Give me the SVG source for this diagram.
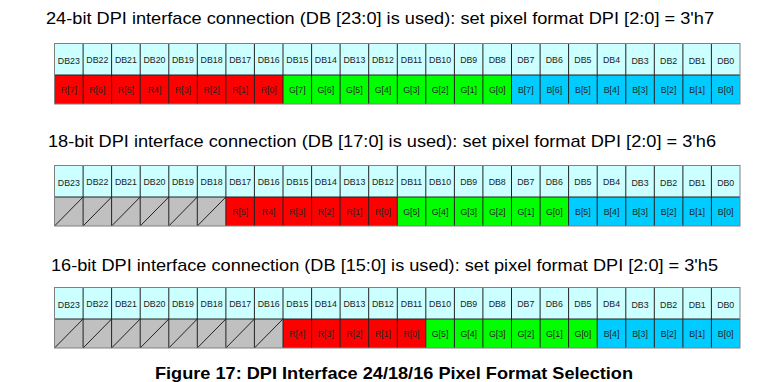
<svg xmlns="http://www.w3.org/2000/svg" xmlns:xlink="http://www.w3.org/1999/xlink" width="772" height="382" viewBox="0 0 772 382">
<style>
.title{font-family:"Liberation Sans",Arial,sans-serif;font-size:17px;fill:#000}
.cap{font-family:"Liberation Sans",Arial,sans-serif;font-size:16.5px;font-weight:bold;fill:#000}
.c{font-family:"Liberation Sans",Arial,sans-serif;font-size:8.8px;fill:#222;text-anchor:middle}
.hdr{fill:#ccffff}
.r{fill:#ff0000}
.g{fill:#00ff00}
.b{fill:#00ccff}
.gy{fill:#c0c0c0}
.grid{fill:none;stroke:#222;stroke-width:1}
.outer{fill:none;stroke:#808080;stroke-width:1}
.diag{fill:none;stroke:#222;stroke-width:1}
</style>
<defs>
<path id="gridlines" class="grid" d="M83.1 0V60.5M111.6 0V60.5M140.2 0V60.5M168.8 0V60.5M197.3 0V60.5M225.9 0V60.5M254.4 0V60.5M283 0V60.5M311.6 0V60.5M340.1 0V60.5M368.7 0V60.5M397.3 0V60.5M425.8 0V60.5M454.4 0V60.5M482.9 0V60.5M511.5 0V60.5M540.1 0V60.5M568.6 0V60.5M597.2 0V60.5M625.8 0V60.5M654.3 0V60.5M682.9 0V60.5M711.4 0V60.5M54.5 31.5H740"/>
<g id="hdrtext">
<text class="c" x="68.8" y="20.5">DB23</text>
<text class="c" x="97.3" y="19">DB22</text>
<text class="c" x="125.9" y="19">DB21</text>
<text class="c" x="154.5" y="19">DB20</text>
<text class="c" x="183" y="19">DB19</text>
<text class="c" x="211.6" y="19">DB18</text>
<text class="c" x="240.2" y="19">DB17</text>
<text class="c" x="268.7" y="19">DB16</text>
<text class="c" x="297.3" y="19">DB15</text>
<text class="c" x="325.8" y="19">DB14</text>
<text class="c" x="354.4" y="19">DB13</text>
<text class="c" x="383" y="19">DB12</text>
<text class="c" x="411.5" y="19">DB11</text>
<text class="c" x="440.1" y="19">DB10</text>
<text class="c" x="468.7" y="19">DB9</text>
<text class="c" x="497.2" y="19">DB8</text>
<text class="c" x="525.8" y="19">DB7</text>
<text class="c" x="554.3" y="19">DB6</text>
<text class="c" x="582.9" y="19">DB5</text>
<text class="c" x="611.5" y="19">DB4</text>
<text class="c" x="640" y="20.5">DB3</text>
<text class="c" x="668.6" y="20">DB2</text>
<text class="c" x="697.2" y="20">DB1</text>
<text class="c" x="725.7" y="20">DB0</text>
</g>
</defs>

<text id="title1" class="title" x="46" y="24" textLength="668" lengthAdjust="spacingAndGlyphs">24-bit DPI interface connection (DB [23:0] is used): set pixel format DPI [2:0] = 3'h7</text>
<text id="title2" class="title" x="48" y="146.5" textLength="668" lengthAdjust="spacingAndGlyphs">18-bit DPI interface connection (DB [17:0] is used): set pixel format DPI [2:0] = 3'h6</text>
<text id="title3" class="title" x="51" y="271" textLength="667" lengthAdjust="spacingAndGlyphs">16-bit DPI interface connection (DB [15:0] is used): set pixel format DPI [2:0] = 3'h5</text>

<g id="table24" transform="translate(0,43.5)">
<rect class="hdr" x="54.5" y="0" width="685.5" height="31.5"/>
<rect class="r" x="54.5" y="31.5" width="228.5" height="29"/>
<rect class="g" x="283" y="31.5" width="228.5" height="29"/>
<rect class="b" x="511.5" y="31.5" width="228.5" height="29"/>
<use href="#gridlines"/>
<rect class="outer" x="54.5" y="0" width="685.5" height="60.5"/>
<use href="#hdrtext"/>
<text class="c" x="68.8" y="49.5">R[7]</text>
<text class="c" x="97.3" y="49.5">R[6]</text>
<text class="c" x="125.9" y="49.5">R[5]</text>
<text class="c" x="154.5" y="49.5">R4]</text>
<text class="c" x="183" y="49.5">R[3]</text>
<text class="c" x="211.6" y="49.5">R[2]</text>
<text class="c" x="240.2" y="49.5">R[1]</text>
<text class="c" x="268.7" y="49.5">R[0]</text>
<text class="c" x="297.3" y="49.5">G[7]</text>
<text class="c" x="325.8" y="49.5">G[6]</text>
<text class="c" x="354.4" y="49.5">G[5]</text>
<text class="c" x="383" y="49.5">G[4]</text>
<text class="c" x="411.5" y="49.5">G[3]</text>
<text class="c" x="440.1" y="49.5">G[2]</text>
<text class="c" x="468.7" y="49.5">G[1]</text>
<text class="c" x="497.2" y="49.5">G[0]</text>
<text class="c" x="525.8" y="49.5">B[7]</text>
<text class="c" x="554.3" y="49.5">B[6]</text>
<text class="c" x="582.9" y="49.5">B[5]</text>
<text class="c" x="611.5" y="49.5">B[4]</text>
<text class="c" x="640" y="49.5">B[3]</text>
<text class="c" x="668.6" y="49.5">B[2]</text>
<text class="c" x="697.2" y="49.5">B[1]</text>
<text class="c" x="725.7" y="49.5">B[0]</text>
</g>

<g id="table18" transform="translate(0,165.5)">
<rect class="hdr" x="54.5" y="0" width="685.5" height="31.5"/>
<rect class="gy" x="54.5" y="31.5" width="171.4" height="29"/>
<rect class="r" x="225.9" y="31.5" width="171.4" height="29"/>
<rect class="g" x="397.3" y="31.5" width="171.3" height="29"/>
<rect class="b" x="568.6" y="31.5" width="171.4" height="29"/>
<use href="#gridlines"/>
<path class="diag" d="M54.5 60.5L83.1 31.5M83.1 60.5L111.6 31.5M111.6 60.5L140.2 31.5M140.2 60.5L168.8 31.5M168.8 60.5L197.3 31.5M197.3 60.5L225.9 31.5"/>
<rect class="outer" x="54.5" y="0" width="685.5" height="60.5"/>
<use href="#hdrtext"/>
<text class="c" x="240.2" y="49.5">R[5]</text>
<text class="c" x="268.7" y="49.5">R4]</text>
<text class="c" x="297.3" y="49.5">R[3]</text>
<text class="c" x="325.8" y="49.5">R[2]</text>
<text class="c" x="354.4" y="49.5">R[1]</text>
<text class="c" x="383" y="49.5">R[0]</text>
<text class="c" x="411.5" y="49.5">G[5]</text>
<text class="c" x="440.1" y="49.5">G[4]</text>
<text class="c" x="468.7" y="49.5">G[3]</text>
<text class="c" x="497.2" y="49.5">G[2]</text>
<text class="c" x="525.8" y="49.5">G[1]</text>
<text class="c" x="554.3" y="49.5">G[0]</text>
<text class="c" x="582.9" y="49.5">B[5]</text>
<text class="c" x="611.5" y="49.5">B[4]</text>
<text class="c" x="640" y="49.5">B[3]</text>
<text class="c" x="668.6" y="49.5">B[2]</text>
<text class="c" x="697.2" y="49.5">B[1]</text>
<text class="c" x="725.7" y="49.5">B[0]</text>
</g>

<g id="table16" transform="translate(0,287.5)">
<rect class="hdr" x="54.5" y="0" width="685.5" height="31.5"/>
<rect class="gy" x="54.5" y="31.5" width="228.5" height="29"/>
<rect class="r" x="283" y="31.5" width="142.8" height="29"/>
<rect class="g" x="425.8" y="31.5" width="171.4" height="29"/>
<rect class="b" x="597.2" y="31.5" width="142.8" height="29"/>
<use href="#gridlines"/>
<path class="diag" d="M54.5 60.5L83.1 31.5M83.1 60.5L111.6 31.5M111.6 60.5L140.2 31.5M140.2 60.5L168.8 31.5M168.8 60.5L197.3 31.5M197.3 60.5L225.9 31.5M225.9 60.5L254.4 31.5M254.4 60.5L283 31.5"/>
<rect class="outer" x="54.5" y="0" width="685.5" height="60.5"/>
<use href="#hdrtext"/>
<text class="c" x="297.3" y="49.5">R[4]</text>
<text class="c" x="325.8" y="49.5">R[3]</text>
<text class="c" x="354.4" y="49.5">R[2]</text>
<text class="c" x="383" y="49.5">R[1]</text>
<text class="c" x="411.5" y="49.5">R[0]</text>
<text class="c" x="440.1" y="49.5">G[5]</text>
<text class="c" x="468.7" y="49.5">G[4]</text>
<text class="c" x="497.2" y="49.5">G[3]</text>
<text class="c" x="525.8" y="49.5">G[2]</text>
<text class="c" x="554.3" y="49.5">G[1]</text>
<text class="c" x="582.9" y="49.5">G[0]</text>
<text class="c" x="611.5" y="49.5">B[4]</text>
<text class="c" x="640" y="49.5">B[3]</text>
<text class="c" x="668.6" y="49.5">B[2]</text>
<text class="c" x="697.2" y="49.5">B[1]</text>
<text class="c" x="725.7" y="49.5">B[0]</text>
</g>

<text id="caption" class="cap" x="155" y="379" textLength="478" lengthAdjust="spacingAndGlyphs">Figure 17: DPI Interface 24/18/16 Pixel Format Selection</text>
</svg>
